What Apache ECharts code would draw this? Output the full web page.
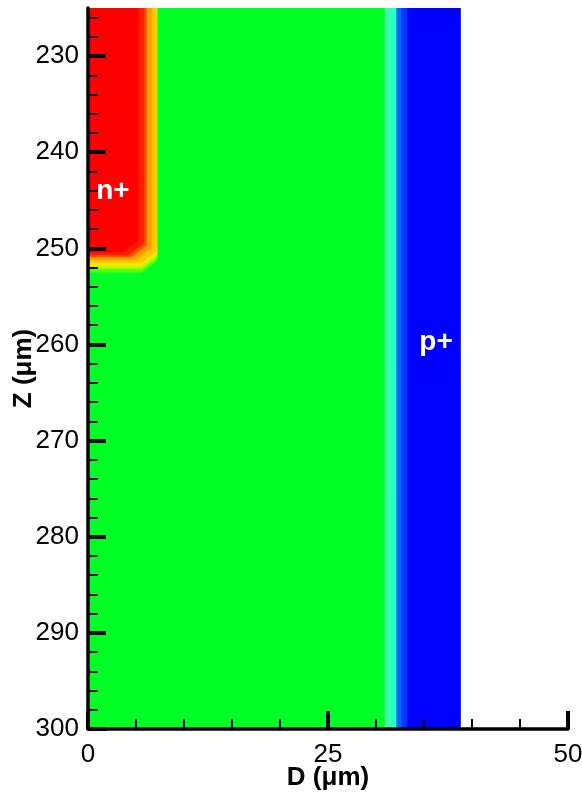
<!DOCTYPE html>
<html>
<head>
<meta charset="utf-8">
<script src="https://cdn.jsdelivr.net/npm/echarts@6/dist/echarts.min.js"></script>
<style>
html, body { margin: 0; padding: 0; background: #fff; }
#chart { width: 582px; height: 794px; }
</style>
</head>
<body>
<div id="chart"></div>
<script>
// 坐标范围与刻度
const dRange = [0, 50]
const zRange = [225, 300]
const dTicks = [0, 25, 50]
const zTicks = [230, 240, 250, 260, 270, 280, 290, 300]

// 器件右边界 (μm)
const deviceEdgeD = 38.8

// p+ 侧过渡带 (D 起止, μm)
const pBandFrom = [30.94, 31.46, 32.15, 32.67, 33.26]
const pBandTo = [31.46, 32.15, 32.67, 33.26, 38.8]

// n+ 等值线 (外 -> 内): 侧边 D 与 底部 Z
const nEdgeD = [7.2, 7.2, 7.15, 7.15, 6.63, 6.1, 5.83, 5.24]
const nEdgeZ = [252.5, 252.1, 251.8, 251.5, 251.2, 250.9, 250.7, 250.4]

// 区域标注
const labelText = ["n+", "p+"]
const labelD = [2.6, 36.25]
const labelZ = [244.1, 259.8]

// 颜色 / 形状
const baseColor = "#00ff24"
const pBandColors = ["#40ffa8", "#28ffc8", "#0064ff", "#0038ff", "#0000ff"]
const nLevelColors = ["#5aff10", "#b4ff00", "#ffe600", "#ffc800", "#ffa000", "#ff5000", "#ff1e00", "#ff0000"]
const chamferD = 1.6
const chamferZ = 1.2
const fontFamily = "Liberation Sans, Arial, sans-serif"

// 组装多边形 (数据坐标)
const regions = []
regions.push({
  pts: [[dRange[0], zRange[0]], [deviceEdgeD, zRange[0]], [deviceEdgeD, zRange[1]], [dRange[0], zRange[1]]],
  color: baseColor,
})
pBandFrom.forEach((d0, i) => {
  const d1 = pBandTo[i]
  regions.push({
    pts: [[d0, zRange[0]], [d1, zRange[0]], [d1, zRange[1]], [d0, zRange[1]]],
    color: pBandColors[i],
  })
})
nEdgeD.forEach((d, i) => {
  const z = nEdgeZ[i]
  regions.push({
    pts: [[0, zRange[0]], [d, zRange[0]], [d, z - chamferZ], [d - chamferD, z], [0, z]],
    color: nLevelColors[i],
  })
})

const myChart = echarts.init(document.getElementById("chart"))

const axisFont = { fontFamily: fontFamily, fontSize: 26, color: "#000" }
const titleFont = { fontFamily: fontFamily, fontSize: 26, fontWeight: "bold", color: "#000" }

let option = {
  animation: false,
  grid: { left: 88, top: 8, width: 480, height: 721, outerBoundsMode: "none", containLabel: false },
  xAxis: {
    type: "value",
    z: 10,
    min: dRange[0],
    max: dRange[1],
    interval: 25,
    name: "D (μm)",
    nameLocation: "middle",
    nameGap: 36,
    nameMoveOverlap: false,
    nameTextStyle: titleFont,
    axisLine: { show: true, onZero: false, lineStyle: { color: "#000", width: 3.5 } },
    axisTick: { show: true, inside: true, length: 18, lineStyle: { color: "#000", width: 4 } },
    minorTick: { show: true, splitNumber: 5, length: 10, lineStyle: { color: "#000", width: 2 } },
    axisLabel: Object.assign({ margin: 13, customValues: dTicks }, axisFont),
    splitLine: { show: false },
  },
  yAxis: {
    type: "value",
    z: 10,
    min: zRange[0],
    max: zRange[1],
    inverse: true,
    splitNumber: 8,
    name: "Z (μm)",
    nameLocation: "middle",
    nameGap: 51,
    nameMoveOverlap: false,
    nameTextStyle: titleFont,
    axisLine: { show: true, onZero: false, lineStyle: { color: "#000", width: 3.5 } },
    axisTick: { show: true, inside: true, length: 18, customValues: zTicks, lineStyle: { color: "#000", width: 4 } },
    minorTick: { show: true, splitNumber: 5, length: 10, lineStyle: { color: "#000", width: 2 } },
    axisLabel: Object.assign({ margin: 9, customValues: zTicks }, axisFont),
    splitLine: { show: false },
  },
  series: [
    {
      type: "custom",
      clip: true,
      silent: true,
      data: regions.map((r, i) => [r.pts[0][0], r.pts[0][1], i]),
      encode: { x: 0, y: 1 },
      renderItem(params, api) {
        const r = regions[params.dataIndex]
        const points = r.pts.map((p) => api.coord(p))
        return {
          type: "polygon",
          shape: { points: points },
          style: { fill: r.color, stroke: r.color, lineWidth: 0.5 },
        }
      },
      z: 1,
    },
    {
      // 区域文字标注
      type: "custom",
      silent: true,
      z: 5,
      data: labelText.map((t, i) => [labelD[i], labelZ[i], i]),
      encode: { x: 0, y: 1 },
      renderItem(params, api) {
        const pos = api.coord([api.value(0), api.value(1)])
        return {
          type: "text",
          x: pos[0],
          y: pos[1],
          style: {
            text: labelText[params.dataIndex],
            fill: "#fff",
            font: "bold 28px " + fontFamily,
            align: "center",
            verticalAlign: "middle",
          },
        }
      },
    },
  ],
}
myChart.setOption(option)
</script>
</body>
</html>
